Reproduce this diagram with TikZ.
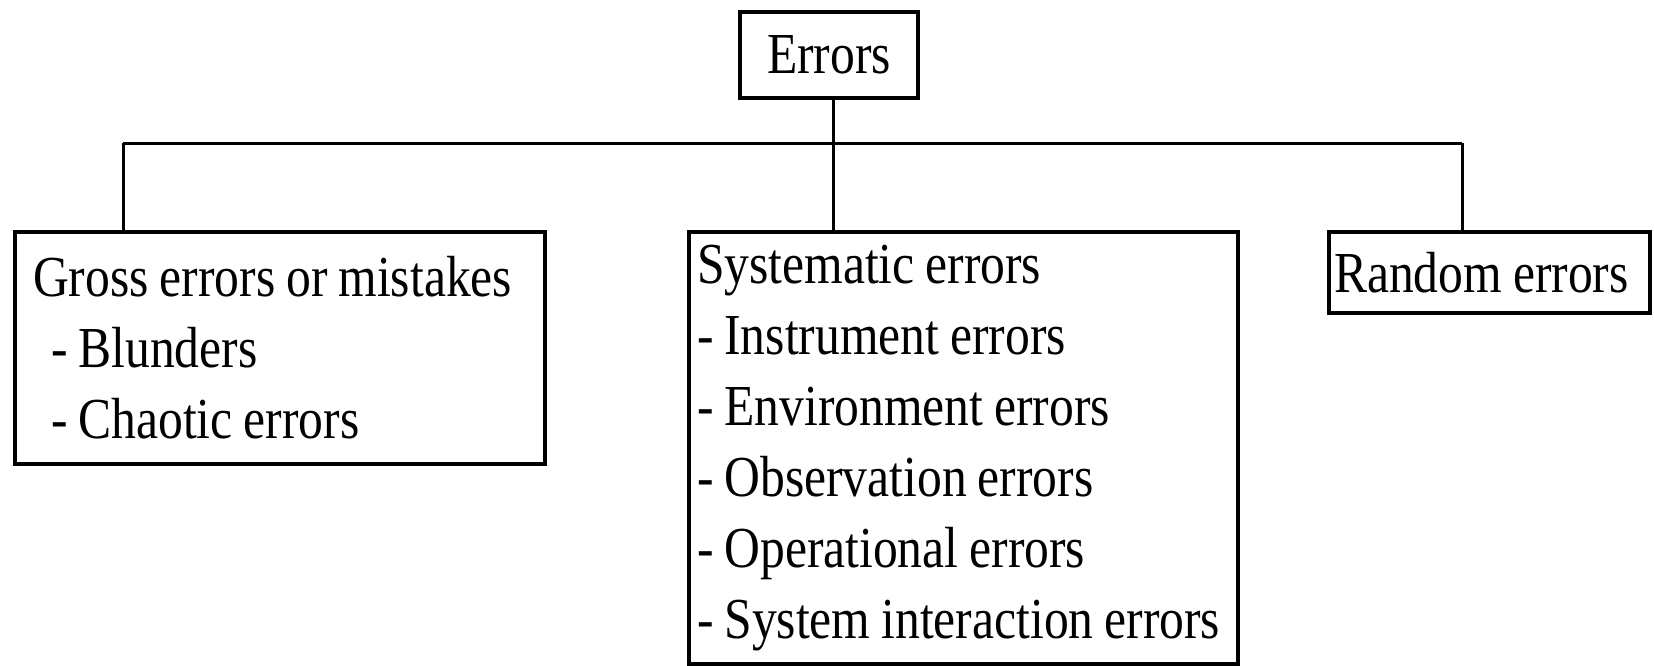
\documentclass[tikz,border=0pt]{standalone}
\usepackage{fontspec}
\setmainfont{Liberation Serif}[FakeStretch=0.855]
\newcommand\boxfont{\fontsize{29pt}{35.5pt}\selectfont}
\begin{document}
\begin{tikzpicture}[x=0.5pt,y=-0.5pt,
  box/.style={draw, line width=2pt, anchor=north west, align=flush left, inner ysep=0pt, font=\boxfont,
    execute at begin node={\spaceskip=5.5pt plus 1pt\relax}}]
\useasboundingbox (0,0) rectangle (1654,665);
\node[box, anchor=center, align=center, minimum width=89pt, minimum height=43pt] (err) at (829,55) {Errors};
\node[box, inner xsep=9pt, text width=247pt, minimum height=116pt] (gross) at (13,230)
  {Gross errors or mistakes\\\hspace*{9pt}- Blunders\\\hspace*{9pt}- Chaotic errors};
\node[box, inner xsep=4pt, text width=266.5pt, minimum height=216pt] (sys) at (687,230)
  {Systematic errors\\- Instrument errors\\- Environment errors\\- Observation errors\\- Operational errors\\- System interaction errors};
\node[box, inner xsep=2.5pt, text width=155.5pt, minimum height=40.5pt] (rand) at (1327,230) {Random errors};
\coordinate (mid) at (833,143);
\coordinate (lft) at (123,143);
\coordinate (rgt) at (1462,143);
\path[draw,line width=1.5pt] (err.south -| mid) -- (sys.north -| mid);
\path[draw,line width=1.5pt] (lft) -- (rgt);
\path[draw,line width=1.5pt] (lft) -- (gross.north -| lft);
\path[draw,line width=1.5pt] (rgt) -- (rand.north -| rgt);
\end{tikzpicture}
\end{document}
